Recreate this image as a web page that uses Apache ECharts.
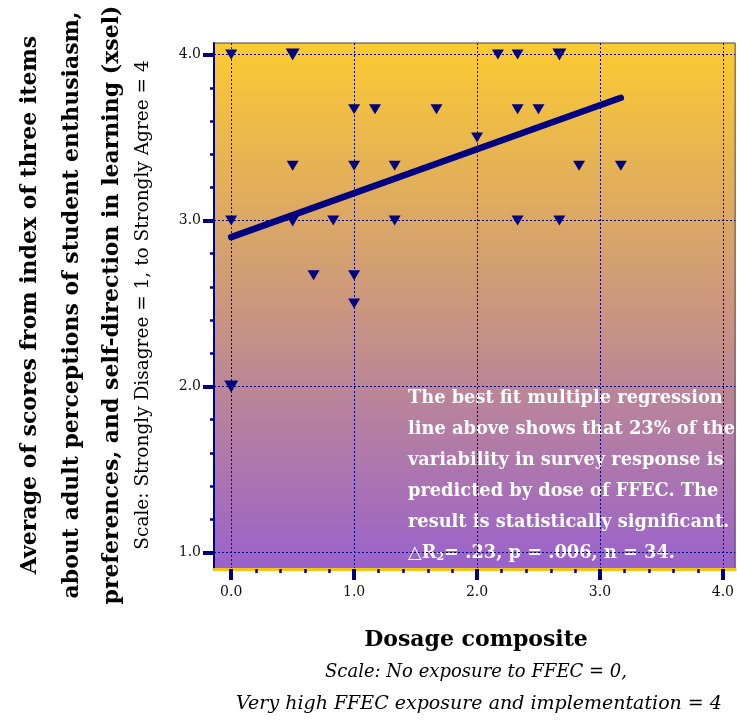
<!DOCTYPE html>
<html>
<head>
<meta charset="utf-8">
<script src="https://cdn.jsdelivr.net/npm/echarts@6/dist/echarts.min.js"></script>
<style>
html, body { margin: 0; padding: 0; background: #fff; }
#chart { width: 737px; height: 721px; }
</style>
</head>
<body>
<div id="chart"></div>
<script>
// dosage composite (x) against average score (y), one entry per visible marker
var dosage = [0, 0.5, 2.17, 2.33, 2.67, 1.0, 1.17, 1.67, 2.33, 2.5, 2.0, 0.5, 1.0, 1.33, 2.83, 3.17, 0, 0.5, 0.83, 1.33, 2.33, 2.67, 0.67, 1.0, 1.0, 0];
var score = [4, 4, 4, 4, 4, 3.67, 3.67, 3.67, 3.67, 3.67, 3.5, 3.33, 3.33, 3.33, 3.33, 3.33, 3, 3, 3, 3, 3, 3, 2.67, 2.67, 2.5, 2];
var counts = [1, 2, 1, 1, 2, 1, 1, 1, 1, 1, 1, 1, 1, 1, 1, 1, 1, 2, 1, 1, 1, 1, 1, 1, 1, 2];

// regression line ends
var fitX = [0, 3.17];
var fitY = [2.90, 3.74];

var xTicks = [0, 1, 2, 3, 4];
var yTicks = [1, 2, 3, 4];

var yTitle = [
    'Average of scores from index of three items',
    'about adult perceptions of student enthusiasm,',
    'preferences, and self-direction in learning (xsel)'
];
var yScale = 'Scale: Strongly Disagree = 1, to Strongly Agree = 4';
var xTitle = 'Dosage composite';
var xScale = ['Scale: No exposure to FFEC = 0,', 'Very high FFEC exposure and implementation = 4'];
var note = [
    'The best fit multiple regression',
    'line above shows that 23% of the',
    'variability in survey response is',
    'predicted by dose of FFEC. The',
    'result is statistically significant.',
    '△R{sub|2}= .23, p = .006, n = 34.'
];

var navy = '#000080';
var serif = 'DejaVu Serif';

var chart = echarts.init(document.getElementById('chart'));

var points = dosage.map(function (d, i) { return [d, score[i], counts[i]]; });
var fit = fitX.map(function (d, i) { return [d, fitY[i]]; });

var graphics = [];
var titleX = [30, 72, 112];
yTitle.forEach(function (t, i) {
    graphics.push({
        type: 'text', x: titleX[i], y: 305, rotation: Math.PI / 2,
        style: { text: t, fontFamily: serif, fontWeight: 'bold', fontSize: 22, fill: '#000', align: 'center', verticalAlign: 'middle' }
    });
});
graphics.push({
    type: 'text', x: 143, y: 305, rotation: Math.PI / 2,
    style: { text: yScale, fontFamily: serif, fontSize: 18.5, fill: '#000', align: 'center', verticalAlign: 'middle' }
});
graphics.push({
    type: 'text', x: 476, y: 640,
    style: { text: xTitle, fontFamily: serif, fontWeight: 'bold', fontSize: 22, fill: '#000', align: 'center', verticalAlign: 'middle' }
});
graphics.push({
    type: 'text', x: 476, y: 672,
    style: { text: xScale[0], fontFamily: serif, fontStyle: 'italic', fontSize: 18, fill: '#000', align: 'center', verticalAlign: 'middle' }
});
graphics.push({
    type: 'text', x: 479, y: 704,
    style: { text: xScale[1], fontFamily: serif, fontStyle: 'italic', fontSize: 19, fill: '#000', align: 'center', verticalAlign: 'middle' }
});
graphics.push({
    type: 'text', x: 408, y: 383,
    style: {
        text: note.join('\n'), fontFamily: serif, fontWeight: 'bold', fontSize: 17.8, lineHeight: 31, fill: '#fff',
        align: 'left', verticalAlign: 'top',
        rich: { sub: { fontFamily: serif, fontWeight: 'bold', fontSize: 11, fill: '#fff', padding: [7, 0, 0, 0] } }
    }
});

var option = {
    backgroundColor: '#fff',
    animation: false,
    grid: {
        left: 214,
        top: 43,
        right: 0,
        bottom: 152,
        show: true,
        borderColor: '#444',
        borderWidth: 1,
        backgroundColor: new echarts.graphic.LinearGradient(0, 0, 0, 1, [
            { offset: 0, color: '#FCCB30' },
            { offset: 1, color: '#9A62CC' }
        ])
    },
    xAxis: {
        type: 'value',
        min: -0.14,
        max: 4.1,
        splitNumber: 4,
        axisLine: { show: true, onZero: false, lineStyle: { color: '#F5C518', width: 3 } },
        axisTick: { show: true, customValues: xTicks, length: 11, lineStyle: { color: navy, width: 4 } },
        minorTick: { show: true, splitNumber: 5, length: 4, lineStyle: { color: navy, width: 2.5 } },
        axisLabel: {
            customValues: xTicks, margin: 16, color: '#111', fontFamily: serif, fontSize: 14,
            formatter: function (v) { return v.toFixed(1); }
        },
        splitLine: { show: true, lineStyle: { color: navy, type: [2, 2], width: 1 } }
    },
    yAxis: {
        type: 'value',
        min: 0.9,
        max: 4.07,
        splitNumber: 3,
        axisLine: { show: true, onZero: false, lineStyle: { color: navy, width: 2 } },
        axisTick: { show: true, customValues: yTicks, length: 11, lineStyle: { color: navy, width: 4 } },
        minorTick: { show: true, splitNumber: 5, length: 4, lineStyle: { color: navy, width: 2.5 } },
        axisLabel: {
            customValues: yTicks, margin: 13, color: '#111', fontFamily: serif, fontSize: 14,
            formatter: function (v) { return v.toFixed(1); }
        },
        splitLine: { show: true, lineStyle: { color: navy, type: [2, 2], width: 1 } }
    },
    series: [
        {
            type: 'line',
            data: fit,
            showSymbol: false,
            lineStyle: { color: navy, width: 6.5, cap: 'round' },
            z: 3
        },
        {
            type: 'scatter',
            data: points,
            symbol: 'triangle',
            symbolRotate: 180,
            symbolSize: function (v) { return v[2] > 1 ? [14, 12] : [12, 10]; },
            itemStyle: { color: navy, opacity: 1 },
            z: 4
        }
    ],
    graphic: graphics
};

chart.setOption(option);

window.addEventListener('resize', function () {
    chart.resize();
});
</script>
</body>
</html>
